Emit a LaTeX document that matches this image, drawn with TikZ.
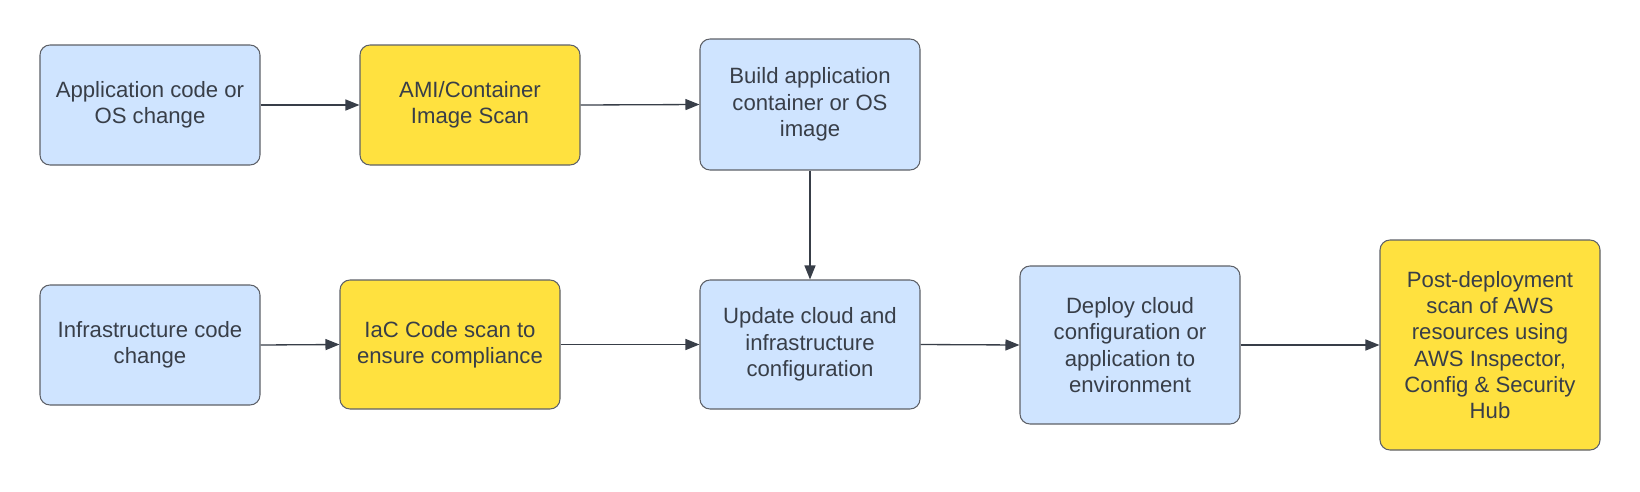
\documentclass[tikz,border=0pt]{standalone}
\usepackage{fontspec}
\setmainfont{Liberation Sans}
\usetikzlibrary{arrows.meta}
\definecolor{boxblue}{HTML}{CFE4FF}
\definecolor{boxyellow}{HTML}{FFE13F}
\definecolor{boxline}{HTML}{5E6168}
\definecolor{ink}{HTML}{383E48}
\begin{document}
\begin{tikzpicture}
  [x=.2mm,y=-.2mm,
   every node/.style={draw=boxline,line width=.6pt,rounded corners=2mm,
     minimum width=44mm,align=center,text=ink,
     font=\fontsize{12.6}{15}\selectfont},
   blue/.style={fill=boxblue},
   yellow/.style={fill=boxyellow},
   link/.style={draw=ink,line width=.75pt,-{Triangle[length=2.8mm,width=2.2mm]}}]
  \useasboundingbox (0,0) rectangle (1640,491);
  \node (app)[blue,minimum height=24mm] at (150,105) {Application code or\\OS change};
  \node (ami)[yellow,minimum height=24mm] at (470,105) {AMI/Container\\Image Scan};
  \node (build)[blue,minimum height=26.2mm] at (810,104.5) {Build application\\container or OS\\image};
  \node (infra)[blue,minimum height=24mm] at (150,345) {Infrastructure code\\change};
  \node (iac)[yellow,minimum height=25.8mm] at (450,344.5) {IaC Code scan to\\ensure compliance};
  \node (update)[blue,minimum height=25.8mm] at (810,344.5) {Update cloud and\\infrastructure\\configuration};
  \node (deploy)[blue,minimum height=31.6mm] at (1130,345) {Deploy cloud\\configuration or\\application to\\environment};
  \node (post)[yellow,minimum height=42mm] at (1490,345) {Post-deployment\\scan of AWS\\resources using\\AWS Inspector,\\Config \& Security\\Hub};

  \foreach \from/\to in {app/ami,ami/build,infra/iac,iac/update,update/deploy,deploy/post}
    \draw[link] (\from.east) -- (\to.west);
  \draw[link] (build.south) -- (update.north);

\end{tikzpicture}
\end{document}
